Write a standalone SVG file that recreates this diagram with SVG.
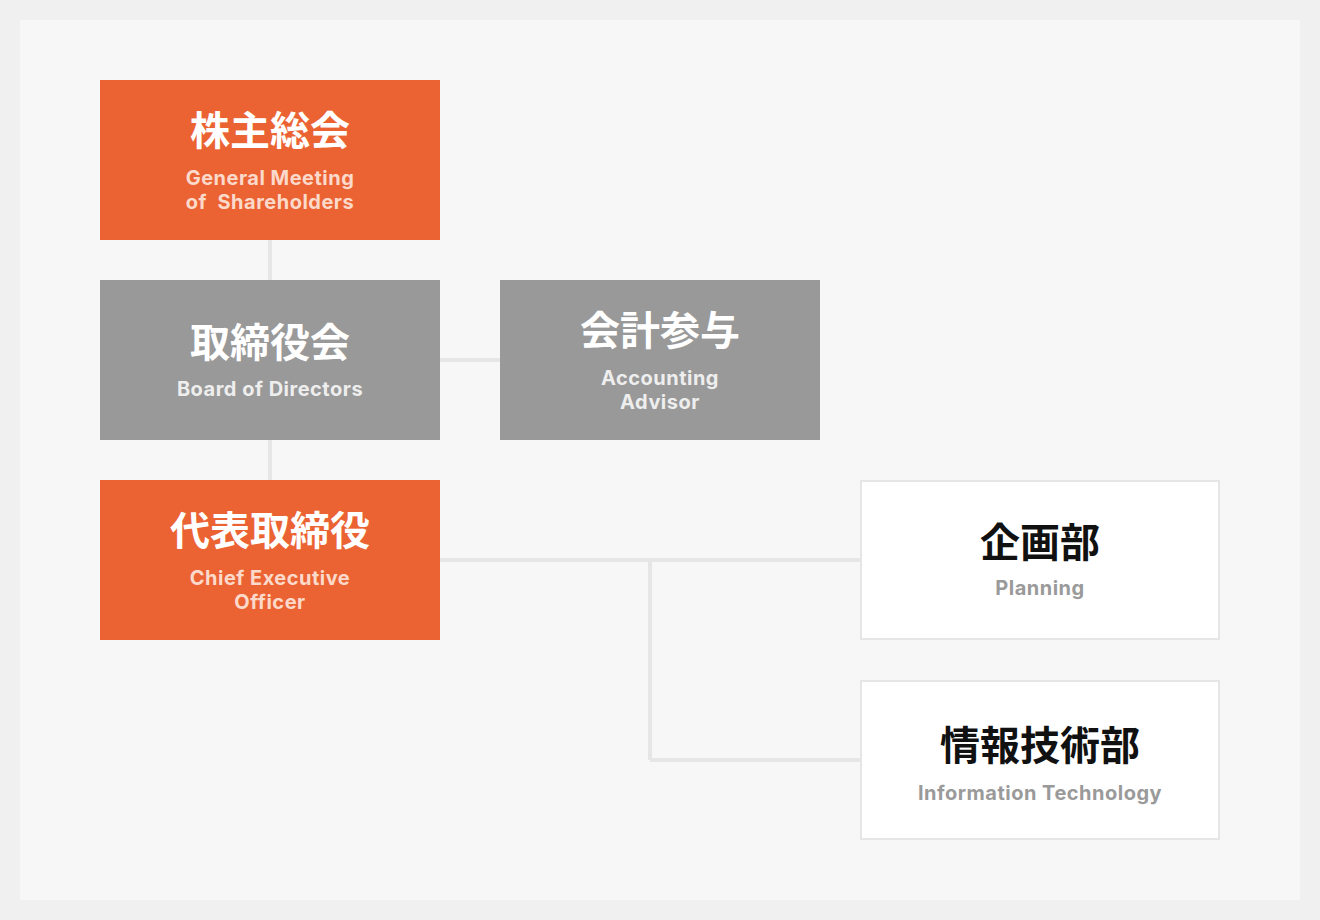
<svg xmlns="http://www.w3.org/2000/svg" width="1320" height="920" viewBox="0 0 1320 920">
<style>
.ja{font-family:"Noto Sans CJK JP","Noto Sans",sans-serif;font-weight:700;font-size:40px;text-anchor:middle}
.en{font-family:Inter,"Open Sans",sans-serif;font-weight:700;font-size:20px;letter-spacing:0.5px;text-anchor:middle;white-space:pre}
.org{fill:#EB6333}
.gry{fill:#999999}
.wht{fill:#ffffff;stroke:#e6e6e6;stroke-width:2}
.w{fill:#ffffff}
.peach{fill:#FCDACB}
.lg{fill:#eeeeee}
.dk{fill:#111111}
.mg{fill:#9a9a9a}
.conn{stroke:#e6e6e6;stroke-width:4;fill:none}
</style>
<rect x="0" y="0" width="1320" height="920" fill="#f0f0f0"/>
<rect x="20" y="20" width="1280" height="880" fill="#f7f7f7"/>
<g id="connectors">
<line class="conn" x1="270" y1="240" x2="270" y2="280"/>
<line class="conn" x1="270" y1="440" x2="270" y2="480"/>
<line class="conn" x1="440" y1="360" x2="500" y2="360"/>
<line class="conn" x1="440" y1="560" x2="860" y2="560"/>
<line class="conn" x1="650" y1="562" x2="650" y2="760"/>
<line class="conn" x1="650" y1="760" x2="860" y2="760"/>
</g>
<g id="shareholders">
<rect class="org" x="100" y="80" width="340" height="160"/>
<text class="ja w" x="270" y="145">株主総会</text>
<text class="en peach" x="270" y="185">General Meeting</text>
<text class="en peach" x="270" y="209">of  Shareholders</text>
</g>
<g id="board">
<rect class="gry" x="100" y="280" width="340" height="160"/>
<text class="ja w" x="270" y="357">取締役会</text>
<text class="en lg" x="270" y="396">Board of Directors</text>
</g>
<g id="accounting">
<rect class="gry" x="500" y="280" width="320" height="160"/>
<text class="ja w" x="660" y="345">会計参与</text>
<text class="en lg" x="660" y="385">Accounting</text>
<text class="en lg" x="660" y="409">Advisor</text>
</g>
<g id="ceo">
<rect class="org" x="100" y="480" width="340" height="160"/>
<text class="ja w" x="270" y="545">代表取締役</text>
<text class="en peach" x="270" y="585">Chief Executive</text>
<text class="en peach" x="270" y="609">Officer</text>
</g>
<g id="planning">
<rect class="wht" x="861" y="481" width="358" height="158"/>
<text class="ja dk" x="1040" y="557">企画部</text>
<text class="en mg" x="1040" y="595">Planning</text>
</g>
<g id="it">
<rect class="wht" x="861" y="681" width="358" height="158"/>
<text class="ja dk" x="1040" y="760">情報技術部</text>
<text class="en mg" x="1040" y="800">Information Technology</text>
</g>
</svg>
